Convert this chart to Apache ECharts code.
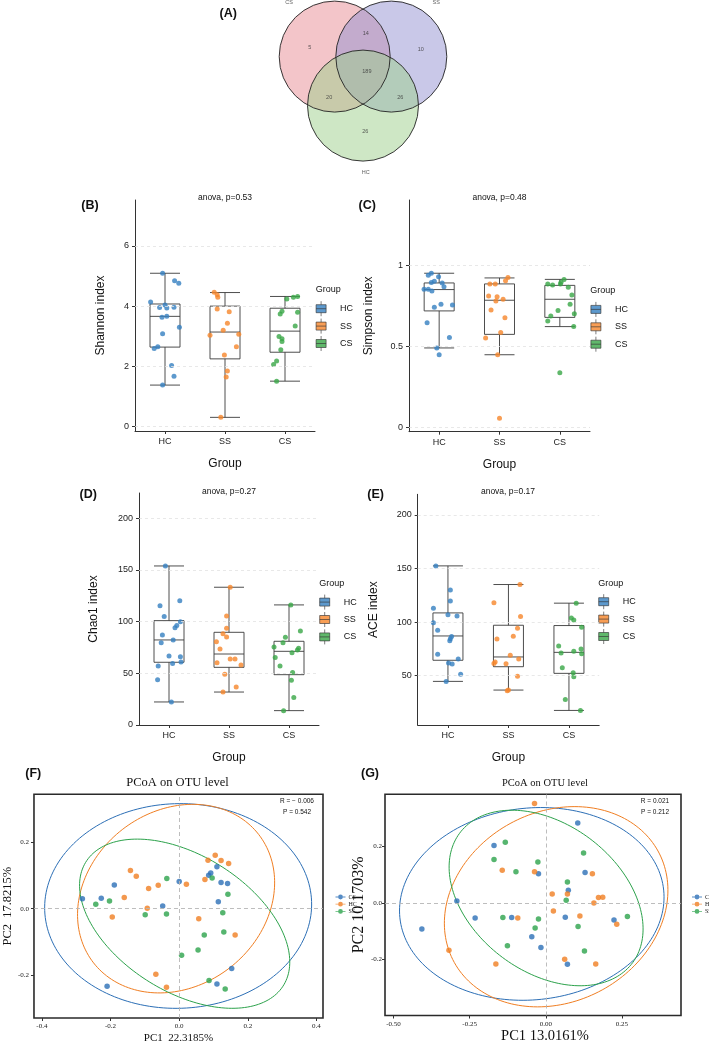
<!DOCTYPE html>
<html><head><meta charset="utf-8">
<script src="https://cdn.jsdelivr.net/npm/echarts@6/dist/echarts.min.js"></script>
<style>html,body{margin:0;padding:0;background:#fff}#c{width:709px;height:1045px}</style>
</head><body><div id="c"></div>
<script>
// ================= DATA =================
const groups = ['HC', 'SS', 'CS'];

// (A) Venn
const vennSets = ['CS', 'SS', 'HC'];
const vennRegions = ['CS only', 'CS&SS', 'SS only', 'CS&SS&HC', 'CS&HC', 'SS&HC', 'HC only'];
const vennCounts = [5, 14, 10, 189, 20, 26, 26];

// (B) Shannon
const shannonTicks = [0, 2, 4, 6];
const shannonHC = [5.09,4.84,4.76,4.14,4.04,3.95,3.94,3.96,3.63,3.66,3.30,3.08,2.65,2.59,2.03,1.67,1.38];
const shannonHCJit = [-0.04,0.16,0.23,-0.24,0,-0.09,0.03,0.15,-0.05,0.03,0.24,-0.04,-0.12,-0.18,0.11,0.15,-0.04];
const shannonSS = [4.46,4.38,4.29,3.90,3.81,3.43,3.20,3.03,3.07,2.65,2.38,1.85,1.65,0.31];
const shannonSSJit = [-0.18,-0.13,-0.12,-0.13,0.07,0.04,-0.03,-0.25,0.23,0.19,-0.01,0.04,0.02,-0.07];
const shannonCS = [4.24,4.29,4.32,3.83,3.74,3.80,3.34,2.99,2.92,2.83,2.55,2.18,2.06,1.51];
const shannonCSJit = [0.03,0.14,0.21,-0.05,-0.08,0.21,0.17,-0.10,-0.05,-0.05,-0.07,-0.14,-0.19,-0.14];
const shannonBox = [[1.38,2.64,3.66,4.07,5.09],[0.31,2.25,3.14,4.00,4.45],[1.51,2.47,3.17,3.93,4.32]];

// (C) Simpson
const simpsonTicks = [0, 0.5, 1];
const simpsonHC = [0.953,0.940,0.932,0.903,0.895,0.893,0.870,0.854,0.854,0.843,0.742,0.761,0.757,0.647,0.555,0.491,0.449];
const simpsonHCJit = [-0.13,-0.18,-0.01,-0.08,-0.13,0.05,0.08,-0.25,-0.18,-0.12,-0.08,0.03,0.22,-0.20,0.17,-0.04,0.00];
const simpsonSS = [0.926,0.907,0.887,0.887,0.812,0.808,0.781,0.792,0.726,0.678,0.586,0.553,0.449,0.056];
const simpsonSSJit = [0.14,0.10,-0.16,-0.07,-0.18,-0.04,-0.06,0.06,-0.14,0.09,0.02,-0.23,-0.03,0.00];
const simpsonCS = [0.915,0.887,0.880,0.887,0.897,0.866,0.819,0.761,0.722,0.689,0.703,0.658,0.623,0.338];
const simpsonCSJit = [0.07,-0.20,-0.12,0.01,0.02,0.14,0.20,0.17,-0.03,-0.15,0.24,-0.20,0.23,0.00];
const simpsonBox = [[0.491,0.720,0.852,0.893,0.953],[0.449,0.575,0.786,0.887,0.924],[0.623,0.680,0.792,0.878,0.915]];

// (D) Chao1
const chaoTicks = [0, 50, 100, 150, 200];
const chaoHC = [153.9,120.3,115.5,104.9,100.0,96.2,94.2,87.1,82.3,79.7,66.8,66.1,61.0,59.4,57.1,43.9,22.3];
const chaoHCJit = [-0.06,0.18,-0.15,-0.08,0.19,0.13,0.10,-0.11,0.07,-0.13,0.00,0.19,0.20,0.06,-0.18,-0.19,0.04];
const chaoSS = [133.3,105.5,93.6,88.4,85.2,80.6,73.6,63.9,63.9,60.3,58.1,49.0,36.8,31.9];
const chaoSSJit = [0.02,-0.04,-0.04,-0.10,-0.04,-0.21,-0.15,0.02,0.10,-0.20,0.20,-0.07,0.12,-0.10];
const chaoCS = [116.2,91.0,84.9,75.5,74.2,72.6,79.7,70.0,65.2,57.1,50.7,43.2,26.5,13.9];
const chaoCSJit = [0.03,0.19,-0.06,-0.25,0.16,0.14,-0.10,0.05,-0.23,-0.15,0.06,0.04,0.08,-0.09];
const chaoBox = [[22.3,60.7,82.3,101.0,153.9],[31.9,55.8,68.7,89.7,133.3],[13.9,48.7,71.3,81.0,116.2]];

// (E) ACE
const aceTicks = [50, 100, 150, 200];
const aceHC = [152.5,130.1,119.8,113.0,107.0,105.8,99.5,92.4,86.5,84.6,82.7,70.0,65.6,61.9,60.9,51.3,44.7];
const aceHCJit = [-0.20,0.04,0.04,-0.24,0.00,0.15,-0.24,-0.17,0.06,0.04,0.03,-0.17,0.17,0.01,0.07,0.21,-0.03];
const aceSS = [135.1,118.2,105.2,94.3,86.8,84.3,69.0,62.8,61.5,61.2,65.6,49.4,36.6,36.0];
const aceSSJit = [0.19,-0.24,0.20,0.15,0.08,-0.19,0.03,-0.22,-0.24,-0.04,0.17,0.15,0.00,-0.02];
const aceCS = [117.7,103.9,102.1,95.2,77.8,71.2,72.8,75.0,70.6,57.5,52.8,49.1,27.9,17.6];
const aceCSJit = [0.12,0.04,0.08,0.21,-0.17,-0.13,0.08,0.20,0.21,-0.11,0.07,0.08,-0.06,0.19];
const aceBox = [[44.7,64.4,87.1,108.6,152.5],[36.6,58.4,67.5,97.1,135.1],[17.6,52.2,71.8,96.8,117.7]];

// (F) PCoA
const pcoaGroups = ['CS', 'HC', 'SS'];
const fTicksX = [-0.4, -0.2, 0, 0.2, 0.4];
const fTicksY = [-0.2, 0, 0.2];
const fCS = [[-0.282,0.030],[-0.227,0.031],[-0.189,0.071],[0.000,0.081],[-0.048,0.008],[0.092,0.107],[0.086,0.100],[0.110,0.125],[0.122,0.078],[0.141,0.075],[0.114,0.021],[0.153,-0.179],[0.110,-0.225],[-0.210,-0.232]];
const fHC = [[-0.142,0.114],[-0.125,0.097],[-0.089,0.060],[-0.061,0.070],[-0.160,0.033],[-0.093,0.001],[-0.195,-0.025],[0.021,0.073],[0.075,0.087],[0.084,0.145],[0.105,0.160],[0.122,0.144],[0.144,0.135],[0.057,-0.030],[0.163,-0.079],[-0.068,-0.196],[-0.037,-0.235]];
const fSS = [[-0.036,0.090],[0.096,0.092],[0.142,0.043],[-0.243,0.013],[-0.203,0.023],[-0.099,-0.018],[-0.037,-0.016],[0.127,-0.012],[0.073,-0.079],[0.130,-0.070],[0.055,-0.124],[0.007,-0.139],[0.087,-0.215],[0.134,-0.240]];
// ellipse: [centerX, centerY, semiMajor, semiMinor, angleDeg]
const fEllCS = [-0.003, 0.008, 0.389, 0.306, 2];
const fEllHC = [-0.009, 0.030, 0.308, 0.259, 42];
const fEllSS = [0.016, -0.045, 0.342, 0.202, -33.5];

// (G) PCoA
const gTicksX = [-0.5, -0.25, 0, 0.25];
const gTicksY = [-0.2, 0, 0.2];
const gCS = [[-0.407,-0.092],[-0.292,0.007],[-0.232,-0.053],[-0.170,0.204],[-0.112,-0.051],[-0.046,-0.119],[-0.016,-0.157],[-0.024,0.104],[0.105,0.283],[0.129,0.108],[0.074,0.045],[0.064,-0.050],[0.071,-0.217],[0.224,-0.060]];
const gHC = [[-0.037,0.352],[-0.143,0.116],[-0.037,0.111],[0.153,0.104],[0.021,0.032],[0.071,0.032],[0.173,0.020],[0.187,0.021],[0.158,0.000],[0.025,-0.028],[0.112,-0.046],[-0.092,-0.053],[0.233,-0.075],[-0.318,-0.167],[-0.164,-0.216],[0.062,-0.199],[0.164,-0.216]];
const gSS = [[-0.133,0.215],[-0.170,0.154],[-0.026,0.145],[-0.098,0.111],[0.124,0.177],[0.071,0.075],[0.067,0.010],[-0.141,-0.051],[-0.024,-0.056],[-0.035,-0.088],[-0.126,-0.151],[0.106,-0.083],[0.127,-0.170],[0.268,-0.048]];
const gEllCS = [-0.046, -0.003, 0.436, 0.339, 8];
const gEllHC = [0.034, -0.013, 0.390, 0.329, 39];
const gEllSS = [0.001, 0.018, 0.366, 0.253, -43];

// ================= LAYOUT / STYLE =================
const SANS = '"Liberation Sans", Arial, sans-serif';
const SERIF = '"Liberation Serif", "Times New Roman", serif';
const boxColors = { HC: '#3580c0', SS: '#f6862a', CS: '#38a646' };
const pcoaColors = { CS: '#2c6fb6', HC: '#f07e22', SS: '#2ca24b' };
const vennFill = { CS: 'rgba(232,140,148,0.5)', SS: 'rgba(148,146,210,0.5)', HC: 'rgba(158,208,140,0.5)' };
const VENN_CENTERS = { CS: [-0.51, 0.294], SS: [0.51, 0.294], HC: [0, -0.589] };
const VENN_LABEL_POS = [[-0.96,0.45],[0.05,0.71],[1.04,0.43],[0.07,0.03],[-0.61,-0.45],[0.67,-0.45],[0.04,-1.06]];
const VENN_SET_LABEL_POS = { CS: [-1.33, 1.27], SS: [1.32, 1.26], HC: [0.05, -1.79] };

const option = { animation: false, backgroundColor: '#fff', grid: [], xAxis: [], yAxis: [], series: [], legend: [], graphic: [] };

function txt(x, y, text, size, o) {
  o = o || {};
  option.graphic.push({ type: 'text', x: x, y: y, silent: true, z: 100,
    style: { text: text, fontSize: size, fontFamily: o.font || SANS, fontWeight: o.weight || 'normal',
      fill: o.color || '#111', align: o.align || 'center', verticalAlign: 'middle' } });
}

// ---------- (A) Venn ----------
option.grid.push({ left: 196.5, top: 0.75, width: 333, height: 194.25 });
option.xAxis.push({ type: 'value', gridIndex: 0, min: -3, max: 3, show: false });
option.yAxis.push({ type: 'value', gridIndex: 0, min: -2.2, max: 1.3, show: false });
function vennCircle(stroke) {
  return { type: 'custom', xAxisIndex: 0, yAxisIndex: 0, silent: true, z: stroke ? 3 : 2,
    encode: { x: 0, y: 1 },
    data: vennSets.map(s => [VENN_CENTERS[s][0], VENN_CENTERS[s][1], 1]),
    renderItem: (p, api) => {
      const c = api.coord([api.value(0), api.value(1)]);
      const r = api.size([api.value(2), 0])[0];
      const s = vennSets[p.dataIndex];
      return { type: 'circle', shape: { cx: c[0], cy: c[1], r: r },
        style: stroke ? { fill: null, stroke: '#222', lineWidth: 0.9 } : { fill: vennFill[s], stroke: null } };
    } };
}
option.series.push(vennCircle(false), vennCircle(true));
option.series.push({ type: 'scatter', xAxisIndex: 0, yAxisIndex: 0, silent: true, z: 4,
  symbolSize: 1, itemStyle: { color: 'rgba(0,0,0,0)' },
  data: vennCounts.map((v, i) => ({ name: vennRegions[i], value: [VENN_LABEL_POS[i][0], VENN_LABEL_POS[i][1], v] })),
  label: { show: true, position: 'inside', formatter: p => String(p.value[2]), fontSize: 5.5, color: '#333', fontFamily: SANS } });
option.series.push({ type: 'scatter', xAxisIndex: 0, yAxisIndex: 0, silent: true, z: 4,
  symbolSize: 1, itemStyle: { color: 'rgba(0,0,0,0)' },
  data: vennSets.map(s => ({ name: s, value: VENN_SET_LABEL_POS[s] })),
  label: { show: true, position: 'inside', formatter: p => p.name, fontSize: 5.5, color: '#333', fontFamily: SANS } });
txt(228.3, 14, '(A)', 12.5, { weight: 'bold' });

// ---------- (B)-(E) box plots ----------
const boxIcon = 'path://M5,0L5,3.5M0,3.5L10,3.5L10,11.5L0,11.5ZM0,7.5L10,7.5M5,11.5L5,15';
const boxPanels = [
  { tag: 'B', yName: 'Shannon index', ticks: shannonTicks, vals: [shannonHC, shannonSS, shannonCS], jit: [shannonHCJit, shannonSSJit, shannonCSJit], box: shannonBox,
    grid: { left: 135, top: 200, width: 180, height: 231 }, yMin: -0.143, yMax: 7.52, yGap: 28,
    legendPos: { left: 315.7, top: 300.8 }, p: 'anova, p=0.53', tagPos: [90, 205.7], pPos: [225, 197.7], groupPos: [315.7, 290] },
  { tag: 'C', yName: 'Simpson index', ticks: simpsonTicks, vals: [simpsonHC, simpsonSS, simpsonCS], jit: [simpsonHCJit, simpsonSSJit, simpsonCSJit], box: simpsonBox,
    grid: { left: 409, top: 200, width: 181, height: 231.7 }, yMin: -0.027, yMax: 1.406, yGap: 34,
    legendPos: { left: 590.5, top: 301.5 }, p: 'anova, p=0.48', tagPos: [367.3, 205.7], pPos: [499.5, 197.7], groupPos: [590.3, 290.7] },
  { tag: 'D', yName: 'Chao1 index', ticks: chaoTicks, vals: [chaoHC, chaoSS, chaoCS], jit: [chaoHCJit, chaoSSJit, chaoCSJit], box: chaoBox,
    grid: { left: 139, top: 493, width: 180, height: 232 }, yMin: 0, yMax: 224.5, yGap: 39,
    legendPos: { left: 319.3, top: 594.2 }, p: 'anova, p=0.27', tagPos: [88.3, 495], pPos: [229, 491.7], groupPos: [319.3, 584] },
  { tag: 'E', yName: 'ACE index', ticks: aceTicks, vals: [aceHC, aceSS, aceCS], jit: [aceHCJit, aceSSJit, aceCSJit], box: aceBox,
    grid: { left: 417.7, top: 494.3, width: 181.5, height: 230.7 }, yMin: 4, yMax: 219.3, yGap: 37.7,
    legendPos: { left: 598.3, top: 593.8 }, p: 'anova, p=0.17', tagPos: [375.7, 495], pPos: [508, 491.7], groupPos: [598.3, 583.3] }
];

boxPanels.forEach(bp => {
  const gi = option.grid.length;
  option.grid.push(bp.grid);
  const catIdx = option.xAxis.length;
  option.xAxis.push({ type: 'category', gridIndex: gi, data: groups,
    axisLine: { show: true, onZero: false, lineStyle: { color: '#333', width: 1 } },
    axisTick: { show: true, alignWithLabel: true, length: 3, lineStyle: { color: '#333' } },
    axisLabel: { fontSize: 9, color: '#222', fontFamily: SANS, margin: 6 },
    name: 'Group', nameLocation: 'middle', nameGap: 27,
    nameTextStyle: { fontSize: 12, fontFamily: SANS, color: '#111' } });
  const valIdx = option.xAxis.length;
  option.xAxis.push({ type: 'value', gridIndex: gi, min: -0.5, max: 2.5, show: false });
  const yIdx = option.yAxis.length;
  option.yAxis.push({ type: 'value', gridIndex: gi, min: bp.yMin, max: bp.yMax,
    axisLine: { show: true, onZero: false, lineStyle: { color: '#333', width: 1 } },
    axisTick: { show: true, length: 3, customValues: bp.ticks, lineStyle: { color: '#333' } },
    axisLabel: { customValues: bp.ticks, fontSize: 9, color: '#222', fontFamily: SANS, margin: 6 },
    splitLine: { show: false },
    name: bp.yName, nameLocation: 'middle', nameGap: bp.yGap,
    nameTextStyle: { fontSize: 12, fontFamily: SANS, color: '#111' } });
  // grid lines (skip a tick that sits on the x axis line)
  option.series.push({ type: 'scatter', xAxisIndex: valIdx, yAxisIndex: yIdx, data: [], silent: true, z: 1,
    markLine: { silent: true, symbol: ['none', 'none'], label: { show: false },
      lineStyle: { type: [3, 3], color: '#e2e2e2', width: 0.8 },
      data: bp.ticks.filter(t => t > bp.yMin).map(t => ({ yAxis: t })) } });
  option.series.push({ type: 'boxplot', xAxisIndex: catIdx, yAxisIndex: yIdx, silent: true, z: 2,
    boxWidth: [30, 30], data: bp.box,
    itemStyle: { color: '#fff', borderColor: '#3a3a3a', borderWidth: 0.9 } });
  groups.forEach((g, k) => {
    option.series.push({ type: 'scatter', name: bp.tag + '|' + g, xAxisIndex: valIdx, yAxisIndex: yIdx, z: 3,
      symbolSize: 5, itemStyle: { color: boxColors[g] }, silent: true,
      data: bp.vals[k].map((v, j) => [k + bp.jit[k][j], v]) });
  });
  option.legend.push({ orient: 'vertical', left: bp.legendPos.left, top: bp.legendPos.top, padding: 0,
    itemWidth: 10, itemHeight: 15, itemGap: 1.6, icon: boxIcon, selectedMode: false,
    data: groups.map(g => bp.tag + '|' + g), formatter: n => n.split('|')[1],
    itemStyle: { borderColor: '#333', borderWidth: 0.8 },
    textStyle: { fontSize: 9, fontFamily: SANS, color: '#111', padding: [0, 0, 0, 9] } });
  txt(bp.tagPos[0], bp.tagPos[1], '(' + bp.tag + ')', 12.5, { weight: 'bold' });
  txt(bp.pPos[0], bp.pPos[1], bp.p, 8.5);
  txt(bp.groupPos[0], bp.groupPos[1], 'Group', 9, { align: 'left' });
});

// ---------- (F),(G) PCoA ----------
const pcoaIcon = 'path://M0,2.6L3,2.6L3,3.4L0,3.4ZM7,2.6L10,2.6L10,3.4L7,3.4ZM7.4,3A2.4,2.4,0,1,1,2.6,3A2.4,2.4,0,1,1,7.4,3Z';
const pcoaPanels = [
  { tag: 'F', pts: { CS: fCS, HC: fHC, SS: fSS }, ell: { CS: fEllCS, HC: fEllHC, SS: fEllSS },
    ticksX: fTicksX, ticksY: fTicksY, digitsX: 1,
    grid: { left: 31, top: 794.3, width: 292, height: 225 }, xMin: -0.423, xMax: 0.419, yMin: -0.327, yMax: 0.342,
    xName: 'PC1  22.3185%', yName: 'PC2  17.8215%', xNameSize: 11, yNameSize: 12.5, xNamePad: 0, xGap: 15, yGap: 11.7, yLabMargin: 5,
    titleSize: 12.5, R: 'R = \u2212 0.006', P: 'P = 0.542', rx: 297, titleX: 177.5, tagPos: [33.3, 773.3], legendLeft: 335.5 },
  { tag: 'G', pts: { CS: gCS, HC: gHC, SS: gSS }, ell: { CS: gEllCS, HC: gEllHC, SS: gEllSS },
    ticksX: gTicksX, ticksY: gTicksY, digitsX: 2,
    grid: { left: 385, top: 794.3, width: 296, height: 225 }, xMin: -0.528, xMax: 0.444, yMin: -0.398, yMax: 0.385,
    xName: 'PC1 13.0161%', yName: 'PC2 10.1703%', xNameSize: 14.5, yNameSize: 16, xNamePad: 24, xGap: 13.5, yGap: 10.3, yLabMargin: 3,
    titleSize: 10.5, R: 'R = 0.021', P: 'P = 0.212', rx: 655, titleX: 545, tagPos: [370, 773.3], legendLeft: 692 }
];
pcoaPanels.forEach(pp => {
  const gi = option.grid.length;
  option.grid.push(Object.assign({ show: true, borderColor: '#2a2a2a', borderWidth: 1.6, backgroundColor: 'rgba(0,0,0,0)' }, pp.grid));
  const xIdx = option.xAxis.length;
  option.xAxis.push({ type: 'value', gridIndex: gi, min: pp.xMin, max: pp.xMax,
    axisLine: { show: false, onZero: false },
    axisTick: { show: true, length: 3, customValues: pp.ticksX, lineStyle: { color: '#333' } },
    axisLabel: { customValues: pp.ticksX, formatter: v => v.toFixed(pp.digitsX),
      fontSize: 7, fontFamily: SERIF, color: '#222', margin: 5 },
    splitLine: { show: false },
    name: pp.xName, nameLocation: 'middle', nameGap: pp.xGap,
    nameTextStyle: { fontSize: pp.xNameSize, fontFamily: SERIF, color: '#111', padding: [0, 0, 0, pp.xNamePad] } });
  const yIdx = option.yAxis.length;
  option.yAxis.push({ type: 'value', gridIndex: gi, min: pp.yMin, max: pp.yMax,
    axisLine: { show: false, onZero: false },
    axisTick: { show: true, length: 3, customValues: pp.ticksY, lineStyle: { color: '#333' } },
    axisLabel: { customValues: pp.ticksY, formatter: v => v.toFixed(1), fontSize: 7, fontFamily: SERIF, color: '#222', margin: pp.yLabMargin },
    splitLine: { show: false },
    name: pp.yName, nameLocation: 'middle', nameGap: pp.yGap,
    nameTextStyle: { fontSize: pp.yNameSize, fontFamily: SERIF, color: '#111' } });
  // zero reference lines
  option.series.push({ type: 'scatter', xAxisIndex: xIdx, yAxisIndex: yIdx, data: [], silent: true, z: 1,
    markLine: { silent: true, symbol: ['none', 'none'], label: { show: false },
      lineStyle: { type: [4, 3], color: '#b5b5b5', width: 0.9 },
      data: [{ xAxis: 0 }, { yAxis: 0 }] } });
  pcoaGroups.forEach(g => {
    option.series.push({ type: 'custom', xAxisIndex: xIdx, yAxisIndex: yIdx, silent: true, z: 2,
      encode: { x: 0, y: 1 }, data: [pp.ell[g]],
      renderItem: (p, api) => {
        const cx = api.value(0), cy = api.value(1), a = api.value(2), b = api.value(3);
        const th = api.value(4) * Math.PI / 180, ct = Math.cos(th), st = Math.sin(th);
        const pts = [];
        for (let k = 0; k <= 180; k++) {
          const t = 2 * Math.PI * k / 180;
          const ex = a * Math.cos(t), ey = b * Math.sin(t);
          pts.push(api.coord([cx + ex * ct - ey * st, cy + ex * st + ey * ct]));
        }
        return { type: 'polyline', shape: { points: pts }, style: { fill: null, stroke: pcoaColors[g], lineWidth: 1 } };
      } });
  });
  pcoaGroups.forEach(g => {
    option.series.push({ type: 'scatter', name: pp.tag + '|' + g, xAxisIndex: xIdx, yAxisIndex: yIdx, z: 3, silent: true,
      symbolSize: 5.5, itemStyle: { color: pcoaColors[g] }, data: pp.pts[g] });
  });
  option.legend.push({ orient: 'vertical', left: pp.legendLeft, top: 894, padding: 0,
    itemWidth: 10, itemHeight: 6, itemGap: 1.2, icon: pcoaIcon, selectedMode: false,
    data: pcoaGroups.map(g => pp.tag + '|' + g), formatter: n => n.split('|')[1],
    itemStyle: { borderWidth: 0 },
    textStyle: { fontSize: 6, fontFamily: SERIF, color: '#222', padding: [0, 0, 0, -2] } });
  txt(pp.titleX, 783, 'PCoA on OTU level', pp.titleSize, { font: SERIF });
  txt(pp.tagPos[0], pp.tagPos[1], '(' + pp.tag + ')', 12.5, { weight: 'bold' });
  txt(pp.rx, 801, pp.R, 6.5);
  txt(pp.rx, 812.5, pp.P, 6.5);
});

const chart = echarts.init(document.getElementById('c'), null, { renderer: 'canvas', width: 709, height: 1045 });
chart.setOption(option);
</script></body></html>
